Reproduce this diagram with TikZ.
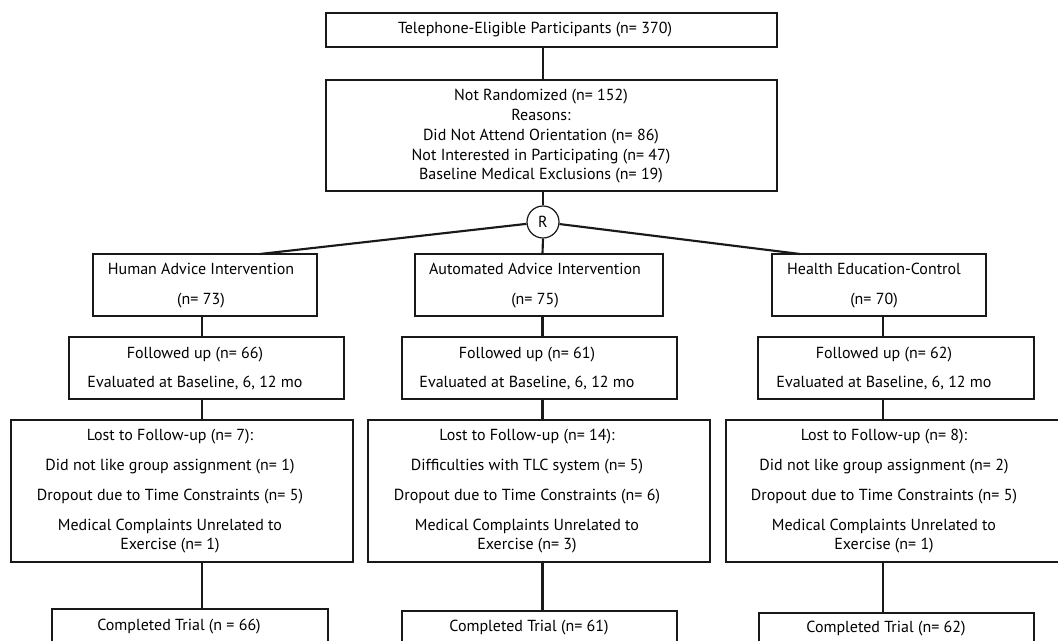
\documentclass[tikz,border=0pt]{standalone}
\usepackage{fontspec}
\setmainfont{PT Sans}
\begin{document}
\begin{tikzpicture}[x=0.75pt,y=-0.75pt,
  box/.style={draw=black!90, line width=0.9pt, inner sep=0pt, fill=white},
  txt/.style={font=\fontsize{12}{14.25}\selectfont, align=center, inner sep=0pt},
  nrtxt/.style={font=\fontsize{12}{14.8}\selectfont, align=center, inner sep=0pt},
  conn/.style={line width=1.6pt, black!90},
  rnd/.style={circle, draw=black!90, line width=0.9pt, minimum size=24pt, inner sep=0pt, fill=white, font=\fontsize{12}{13}\selectfont}]
\useasboundingbox (0,0) rectangle (1058,641);
\clip (0,0) rectangle (1058,641);
% axes of the columns
\coordinate (ax0) at (543,0);
\coordinate (ax1) at (202,0);
\coordinate (ax2) at (542.5,0);
\coordinate (ax3) at (883,0);
\coordinate (hc) at (260,254);
\coordinate (ec) at (800,254);
% boxes
\node[box, minimum width=338.25pt, minimum height=25.5pt] (top) at (551.5,30) {};
\node[box, minimum width=338.25pt, minimum height=83.25pt] (nr) at (551.5,135.5) {};
\node[rnd] (R) at (543,222) {R};
\node[box, minimum width=168pt, minimum height=46.5pt] (hum) at (205,285) {};
\node[box, minimum width=186pt, minimum height=46.5pt] (aut) at (539,285) {};
\node[box, minimum width=160.5pt, minimum height=46.5pt] (hed) at (879,285) {};
\node[box, minimum width=206.25pt, minimum height=46.5pt] (fol1) at (206.5,368) {};
\node[box, minimum width=206.25pt, minimum height=46.5pt] (fol2) at (539.5,368) {};
\node[box, minimum width=207pt, minimum height=46.5pt] (fol3) at (896,368) {};
\node[box, minimum width=256.5pt, minimum height=106.5pt] (lost1) at (182,491) {};
\node[box, minimum width=256.5pt, minimum height=106.5pt] (lost2) at (539,491) {};
\node[box, minimum width=256.5pt, minimum height=106.5pt] (lost3) at (897,491) {};
\node[box, minimum width=207pt, minimum height=27pt] (comp1) at (190,627) {};
\node[box, minimum width=206.25pt, minimum height=26.25pt] (comp2) at (539.5,628.5) {};
\node[box, minimum width=206.25pt, minimum height=26.25pt] (comp3) at (896.5,630.5) {};
% texts
\node[txt] (ttop) at (535,30) {Telephone-Eligible Participants (n= 370)};
\node[nrtxt] (tnr) at (541,136.5) {Not Randomized (n= 152)\\Reasons:\\Did Not Attend Orientation (n= 86)\\Not Interested in Participating (n= 47)\\Baseline Medical Exclusions (n= 19)};
\node[txt] (thum) at (201,286) {Human Advice Intervention\\[8.25pt](n= 73)};
\node[txt] (taut) at (535,286) {Automated Advice Intervention\\[8.25pt](n= 75)};
\node[txt] (thed) at (874,286) {Health Education-Control\\[8.25pt](n= 70)};
\node[txt] (tfol1) at (195,368.5) {Followed up (n= 66)\\[7.5pt]Evaluated at Baseline, 6, 12 mo};
\node[txt] (tfol2) at (527,368.5) {Followed up (n= 61)\\[7.5pt]Evaluated at Baseline, 6, 12 mo};
\node[txt] (tfol3) at (884,368.5) {Followed up (n= 62)\\[7.5pt]Evaluated at Baseline, 6, 12 mo};
\node[txt] (tlost1) at (170,491.5) {Lost to Follow-up (n= 7):\\[8.25pt]Did not like group assignment (n= 1)\\[8.25pt]Dropout due to Time Constraints (n= 5)\\[8.25pt]Medical Complaints Unrelated to\\Exercise (n= 1)};
\node[txt] (tlost2) at (527,491.5) {Lost to Follow-up (n= 14):\\[8.25pt]Difficulties with TLC system (n= 5)\\[8.25pt]Dropout due to Time Constraints (n= 6)\\[8.25pt]Medical Complaints Unrelated to\\Exercise (n= 3)};
\node[txt] (tlost3) at (884,491.5) {Lost to Follow-up (n= 8):\\[8.25pt]Did not like group assignment (n= 2)\\[8.25pt]Dropout due to Time Constraints (n= 5)\\[8.25pt]Medical Complaints Unrelated to\\Exercise (n= 1)};
\node[txt] (tcomp1) at (179,627) {Completed Trial (n = 66)};
\node[txt] (tcomp2) at (529,628) {Completed Trial (n= 61)};
\node[txt] (tcomp3) at (886,629) {Completed Trial (n= 62)};
% connectors
\draw[conn] (top.south -| ax0) -- (nr.north -| ax0);
\draw[conn] (nr.south -| ax0) -- (R.north);
\draw[conn] (R.south) -- (aut.north -| ax2);
\draw[conn] (R) -- (hc);
\draw[conn] (R) -- (ec);
\draw[conn] (hum.south -| ax1) -- (fol1.north -| ax1);
\draw[conn] (fol1.south -| ax1) -- (lost1.north -| ax1);
\draw[conn] (lost1.south -| ax1) -- (comp1.north -| ax1);
\draw[conn] (aut.south -| ax2) -- (fol2.north -| ax2);
\draw[conn] (fol2.south -| ax2) -- (lost2.north -| ax2);
\draw[conn] (lost2.south -| ax2) -- (comp2.north -| ax2);
\draw[conn] (hed.south -| ax3) -- (fol3.north -| ax3);
\draw[conn] (fol3.south -| ax3) -- (lost3.north -| ax3);
\draw[conn] (lost3.south -| ax3) -- (comp3.north -| ax3);
\end{tikzpicture}
\end{document}
